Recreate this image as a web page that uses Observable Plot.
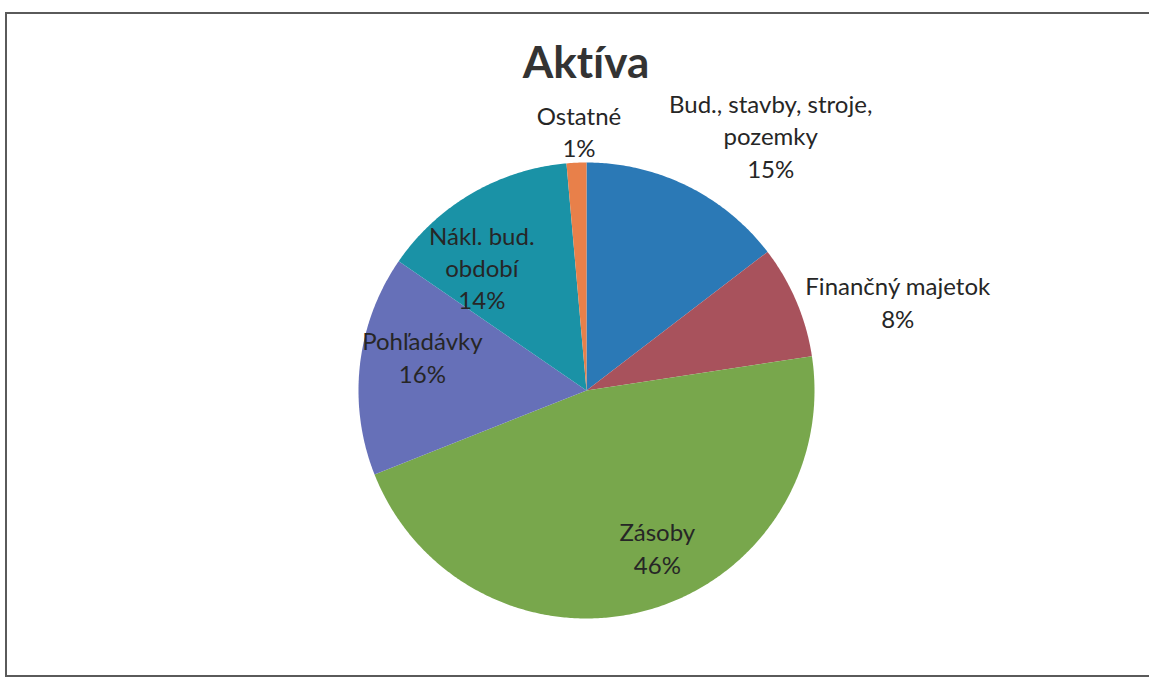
<!DOCTYPE html>
<html>
<head>
<meta charset="utf-8">
<script src="https://cdn.jsdelivr.net/npm/d3@7"></script>
<script src="https://cdn.jsdelivr.net/npm/@observablehq/plot@0.6"></script>
<style>
  html, body { margin: 0; padding: 0; background: #fff; width: 1149px; height: 677px; overflow: hidden; }
  #frame { position: absolute; left: 5px; top: 12px; width: 1200px; height: 665px; border: 2px solid #5a5a5a; box-sizing: border-box; }
  #title { position: absolute; left: 0; width: 1172px; top: 35px; text-align: center; font-family: Lato, sans-serif; font-weight: 700; font-size: 44px; color: #333; font-variant-ligatures: none; }
  #chart { position: absolute; left: 0; top: 0; }
  svg text { font-variant-ligatures: none; }
</style>
</head>
<body>
<div id="frame"></div>
<div id="chart"></div>
<div id="title">Aktíva</div>
<script>
// Data (clockwise from 12 o'clock)
const categories = ["Bud., stavby, stroje, pozemky", "Finančný majetok", "Zásoby", "Pohľadávky", "Nákl. bud. období", "Ostatné"];
const labelTexts = ["Bud., stavby, stroje,\npozemky", "Finančný majetok", "Zásoby", "Pohľadávky", "Nákl. bud.\nobdobí", "Ostatné"];
const values = [14.6, 8.0, 46.4, 15.6, 14.0, 1.4];
const percentLabels = ["15%", "8%", "46%", "16%", "14%", "1%"];
const colors = ["#2b79b6", "#a8525c", "#78a74c", "#6670b8", "#1a92a6", "#e8804a"];

// Layout
const W = 1149, H = 677;
const cx = 586, cy = 390, R = 228;
// per-label placement: radial factor + pixel nudge
const labelLayout = [
  {k: 1.25, dx: 58, dy: 0},
  {k: 1.25, dx: 49, dy: 22},
  {k: 0.72, dx: 28, dy: -2},
  {k: 0.72, dx: -1, dy: -16},
  {k: 0.72, dx: -22, dy: 18},
  {k: 1.25, dx: 5, dy: 25}
];

const pie = d3.pie().sort(null).value(d => d)(values);

const slices = pie.map((p, i) => {
  const ring = [[0, 0]];
  const n = Math.max(4, Math.ceil((p.endAngle - p.startAngle) / (Math.PI / 360)));
  for (let j = 0; j <= n; j++) {
    const a = p.startAngle + (p.endAngle - p.startAngle) * j / n;
    ring.push([Math.sin(a), -Math.cos(a)]);
  }
  ring.push([0, 0]);
  return {type: "Feature", properties: {name: categories[i]}, geometry: {type: "Polygon", coordinates: [ring]}};
});

const labels = pie.map((p, i) => {
  const a = (p.startAngle + p.endAngle) / 2;
  const L = labelLayout[i];
  return {
    x: L.k * Math.sin(a) + L.dx / R,
    y: -L.k * Math.cos(a) + L.dy / R,
    text: labelTexts[i] + "\n" + percentLabels[i]
  };
});

const x0 = -cx / R, x1 = (W - cx) / R, y0 = -cy / R, y1 = (H - cy) / R;
const frameRect = {type: "Polygon", coordinates: [[[x0, y0], [x1, y0], [x1, y1], [x0, y1], [x0, y0]]]};

const plot = Plot.plot({
  width: W,
  height: H,
  margin: 0,
  style: {background: "transparent", overflow: "visible"},
  projection: {type: "identity", domain: frameRect},
  color: {domain: categories, range: colors},
  marks: [
    Plot.geo(slices, {fill: d => d.properties.name}),
    Plot.text(labels, {
      x: "x", y: "y", text: "text",
      fontFamily: "Lato, sans-serif", fontSize: 24, fill: "#262626",
      lineHeight: 1.35, lineAnchor: "middle", textAnchor: "middle"
    })
  ]
});
document.getElementById("chart").appendChild(plot);
</script>
</body>
</html>
